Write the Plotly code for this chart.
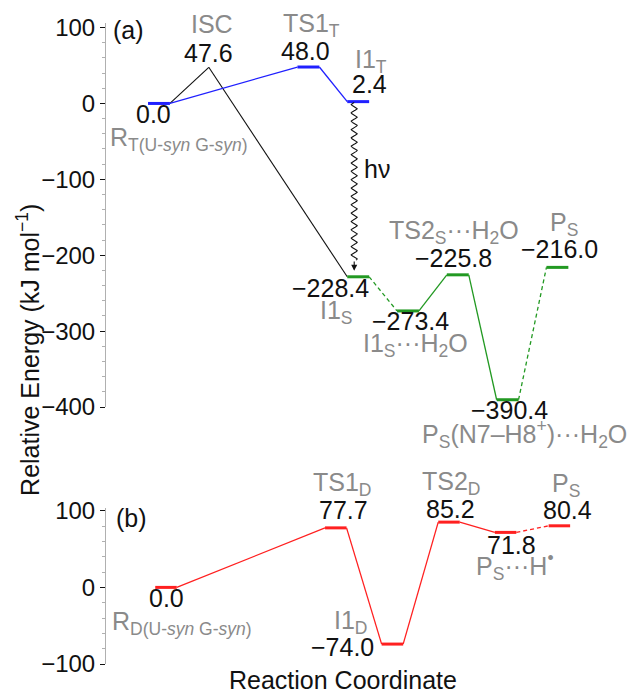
import numpy as np
import plotly.graph_objects as go

# ---------------- data ----------------
# (a) triplet / singlet pathway
top_names = ["R<sub>T(U-<i>syn</i> G-<i>syn</i>)</sub>", "ISC", "TS1<sub>T</sub>", "I1<sub>T</sub>",
             "I1<sub>S</sub>", "I1<sub>S</sub>···H<sub>2</sub>O", "TS2<sub>S</sub>···H<sub>2</sub>O",
             "P<sub>S</sub>(N7–H8<sup>+</sup>)···H<sub>2</sub>O", "P<sub>S</sub>"]
top_x = [0, 1, 3, 4, 4, 5, 6, 7, 8]
top_E = [0.0, 47.6, 48.0, 2.4, -228.4, -273.4, -225.8, -390.4, -216.0]

# (b) doublet pathway
bot_names = ["R<sub>D(U-<i>syn</i> G-<i>syn</i>)</sub>", "TS1<sub>D</sub>", "I1<sub>D</sub>",
             "TS2<sub>D</sub>", "P<sub>S</sub>···H<sup>•</sup>", "P<sub>S</sub>"]
bot_x = [0, 3, 4, 5, 6, 6.95]
bot_E = [0.0, 77.7, -74.0, 85.2, 71.8, 80.4]

y_ticks_top = [100, 0, -100, -200, -300, -400]
y_ticks_bot = [100, 0, -100]

# ---------------- styling ----------------
FONT = "Liberation Sans, Arial, Helvetica, sans-serif"
GRAY = "#8a8a8a"
BLUE = "#2020ff"
GREEN = "#229922"
RED = "#ff2020"
BLACK = "#111111"
HW_TOP = 0.22   # half width of an energy level (top axis units)
HW_BOT = 0.19

fig = go.Figure()


def level(xa, ya, xc, e, hw, color):
    fig.add_trace(go.Scatter(x=[xc - hw, xc + hw], y=[e, e], mode="lines",
                             line=dict(color=color, width=3), xaxis=xa, yaxis=ya,
                             hoverinfo="skip", showlegend=False))


def link(xa, ya, x0, e0, x1, e1, color, dash="solid", width=1.3):
    fig.add_trace(go.Scatter(x=[x0, x1], y=[e0, e1], mode="lines",
                             line=dict(color=color, width=width, dash=dash),
                             xaxis=xa, yaxis=ya, hoverinfo="skip", showlegend=False))


def fmt(e):
    return f"{e:.1f}".replace("-", "−")


# ----- panel (a) -----
tx, tE = top_x, top_E
# intersystem crossing path (black)
link("x", "y", tx[0] + HW_TOP, tE[0], tx[1], tE[1], BLACK, width=1.1)
link("x", "y", tx[1], tE[1], tx[4] - HW_TOP, tE[4], BLACK, width=1.1)
# triplet path (blue)
link("x", "y", tx[0] + HW_TOP, tE[0], tx[2] - HW_TOP, tE[2], BLUE)
link("x", "y", tx[2] + HW_TOP, tE[2], tx[3] - HW_TOP, tE[3], BLUE)
# singlet path (green)
DASH = "4px,3px"
link("x", "y", tx[4] + HW_TOP, tE[4], tx[5] - HW_TOP, tE[5], GREEN, DASH)
link("x", "y", tx[5] + HW_TOP, tE[5], tx[6] - HW_TOP, tE[6], GREEN)
link("x", "y", tx[6] + HW_TOP, tE[6], tx[7] - HW_TOP, tE[7], GREEN)
link("x", "y", tx[7] + HW_TOP, tE[7], tx[8] - HW_TOP, tE[8], GREEN, DASH)

for i in (0, 2, 3):
    level("x", "y", tx[i], tE[i], HW_TOP, BLUE)
for i in (4, 5, 6, 7, 8):
    level("x", "y", tx[i], tE[i], HW_TOP, GREEN)

# photo-excitation: wavy line from I1_T down to I1_S
wave_x0 = tx[3] - 0.08
wave_top = tE[3] - 1
wave_bot = tE[4] + 22
wy = np.linspace(wave_top, wave_bot, 600)
wx = wave_x0 + 0.06 * np.sin(2 * np.pi * (wy - wave_top) / 11.0)
fig.add_trace(go.Scatter(x=wx, y=wy, mode="lines", line=dict(color=BLACK, width=1.1),
                         xaxis="x", yaxis="y", hoverinfo="skip", showlegend=False))

# ----- panel (b) -----
bx, bE = bot_x, bot_E
for i in range(len(bx) - 1):
    dash = DASH if i == len(bx) - 2 else "solid"
    link("x2", "y2", bx[i] + HW_BOT, bE[i], bx[i + 1] - HW_BOT, bE[i + 1], RED, dash)
for i in range(len(bx)):
    level("x2", "y2", bx[i], bE[i], HW_BOT, RED)

# ---------------- annotations ----------------
ann = []


def label(xr, yr, xc, e, text, color, dx, dy, size=25, xanchor="center"):
    # dy positive = downwards; subscripted labels sit a little higher
    lift = 4.5 if "<sub>" in text else 2.5
    ann.append(dict(x=xc, y=e, xref=xr, yref=yr, text=text, showarrow=False,
                    xanchor=xanchor, yanchor="middle", xshift=dx, yshift=-dy + lift,
                    font=dict(family=FONT, size=size, color=color)))


# panel (a): value labels (dx, dy offsets in px, dy positive = downwards)
top_val_off = [(-5, 13), (0, -12), (-3, -14), (11, -15), (-28, 14), (3, 13), (-4, -14), (1.5, 13), (2.5, -16)]
top_name_off = [(-51, 40), (3, -41), (3, -38), (13, -36), (-22, 40), (7.5, 39), (-4, -38), (16.5, 39), (7, -39)]
for i in range(len(tx)):
    label("x", "y", tx[i], tE[i], fmt(tE[i]), BLACK, *top_val_off[i])
    if i == 0:
        label("x", "y", tx[i], tE[i], top_names[i], GRAY, *top_name_off[i], xanchor="left")
    else:
        label("x", "y", tx[i], tE[i], top_names[i], GRAY, *top_name_off[i])

bot_val_off = [(0, 13), (8, -15), (-49.5, 5), (1.5, -11), (6, 15), (8.5, -13)]
bot_name_off = [(-56, 40), (7, -39), (-41.5, -18), (3, -35), (9, 38), (7, -36)]
for i in range(len(bx)):
    label("x2", "y2", bx[i], bE[i], fmt(bE[i]), BLACK, *bot_val_off[i])
    if i == 0:
        label("x2", "y2", bx[i], bE[i], bot_names[i], GRAY, *bot_name_off[i], xanchor="left")
    else:
        label("x2", "y2", bx[i], bE[i], bot_names[i], GRAY, *bot_name_off[i])

# arrow head of the excitation
ann.append(dict(x=wave_x0, y=tE[4] + 8, ax=wave_x0, ay=wave_bot, xref="x", yref="y",
                axref="x", ayref="y", text="", showarrow=True, arrowhead=2,
                arrowsize=1.1, arrowwidth=1.1, arrowcolor=BLACK))
ann.append(dict(x=wave_x0, y=(wave_top + wave_bot) / 2 + 10, xref="x", yref="y", text="hν",
                showarrow=False, xanchor="left", yanchor="middle", xshift=8, yshift=5,
                font=dict(family=FONT, size=25, color=BLACK)))

# panel tags
ann.append(dict(x=0.044, y=0.989, xref="paper", yref="paper", text="(a)", showarrow=False,
                xanchor="center", yanchor="middle", font=dict(family=FONT, size=25, color=BLACK)))
ann.append(dict(x=0.051, y=0.2283, xref="paper", yref="paper", text="(b)", showarrow=False,
                xanchor="center", yanchor="middle", font=dict(family=FONT, size=25, color=BLACK)))

# axis titles
ann.append(dict(x=-0.156, y=0.49, xref="paper", yref="paper", textangle=-90,
                text="Relative Energy (kJ mol<sup>−1</sup>)", showarrow=False,
                xanchor="center", yanchor="middle", font=dict(family=FONT, size=25, color=BLACK)))
ann.append(dict(x=0.473, y=-0.025, xref="paper", yref="paper", text="Reaction Coordinate",
                showarrow=False, xanchor="center", yanchor="middle",
                font=dict(family=FONT, size=25, color=BLACK)))

yax_common = dict(showgrid=False, zeroline=False, showline=True, linecolor="#b0b0b0",
                  linewidth=1, ticks="outside", ticklen=5, tickcolor=BLACK, tickwidth=1,
                  tickfont=dict(family=FONT, size=24, color=BLACK),
                  minor=dict(dtick=20, ticks="outside", ticklen=3, tickcolor="#b0b0b0"))
xax_common = dict(visible=False, showgrid=False, zeroline=False)

fig.update_layout(
    width=628, height=694, margin=dict(l=106, r=22, t=20, b=30),
    plot_bgcolor="white", paper_bgcolor="white", showlegend=False,
    annotations=ann,
    xaxis=dict(domain=[0, 1], range=[-1.064, 8.976], anchor="y", **xax_common),
    xaxis2=dict(domain=[0, 1], range=[-1.060, 7.774], anchor="y2", **xax_common),
    yaxis=dict(domain=[0.4009, 1], range=[-400, 106], anchor="x",
               tickvals=y_ticks_top, **yax_common),
    yaxis2=dict(domain=[0, 0.2438], range=[-100, 104], anchor="x2",
                tickvals=y_ticks_bot, **yax_common),
)

fig.write_html("out.html")
